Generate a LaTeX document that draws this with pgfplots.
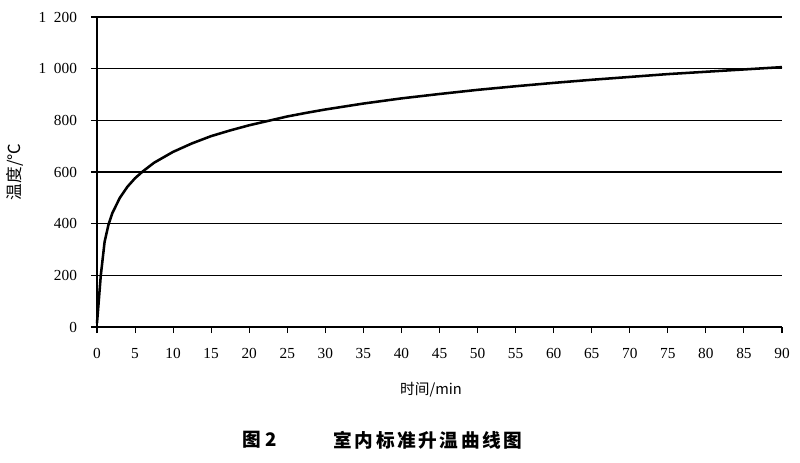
\documentclass[border=0pt]{standalone}
\usepackage{pgfplots}
\pgfplotsset{compat=1.18}
\usepackage{fontspec}
\setmainfont{Liberation Serif}
\newfontfamily\cjk{Noto Sans CJK SC}
\newfontfamily\cjkcap[LetterSpace=14]{Noto Sans CJK SC}
\begin{document}
\begin{tikzpicture}[x=0.75pt,y=0.75pt]
\useasboundingbox (0,0) rectangle (800,-462);
\begin{axis}[
  scale only axis,
  at={(72.75pt,-245.25pt)}, anchor=south west,
  width=513.75pt, height=232.5pt,
  xmin=0, xmax=90, ymin=0, ymax=1200,
  axis x line*=bottom, axis y line*=left,
  axis line style={line width=0.8pt,-},
  xtick={0,5,...,90},
  ytick={0,200,...,1200},
  yticklabels={0,200,400,600,800,1\enspace000,1\enspace200},
  tick align=outside,
  major tick length=4.5pt,
  tick style={line width=0.8pt,black},
  ymajorgrids,
  grid style={line width=0.8pt,black},
  /pgf/number format/assume math mode=true,
  tick label style={font=\fontsize{11.5pt}{13pt}\selectfont},
  xticklabel style={yshift=-8pt},
  yticklabel style={xshift=-7pt},
  clip=false,
]
\addplot[line width=1.9pt, black, line join=round] coordinates {
(0,15) (0.5,200) (1,330) (1.5,395) (2,440) (3,500) (4,543) (5,576) (6,602) (7.5,636) (10,678)
(12.5,711) (15,739) (17.5,761) (20,781) (22.5,798) (25,815) (27.5,829) (30,842)
(35,865) (40,885) (45,902) (50,918) (55,932) (60,945) (65,957) (70,968)
(75,979) (80,988) (85,997) (90,1006)
};
\end{axis}
\node[rotate=90,font=\cjk\fontsize{12.5pt}{14pt}\selectfont] at (15,-172) {温度/℃};
\node[font=\cjk\fontsize{11pt}{13pt}\selectfont] at (431,-390) {时间/min};
\node[font=\cjk\bfseries\fontsize{14pt}{16pt}\selectfont] at (260,-440) {图 2};
\node[font=\cjkcap\bfseries\fontsize{14pt}{16pt}\selectfont] at (428,-440) {室内标准升温曲线图};
\end{tikzpicture}
\end{document}
